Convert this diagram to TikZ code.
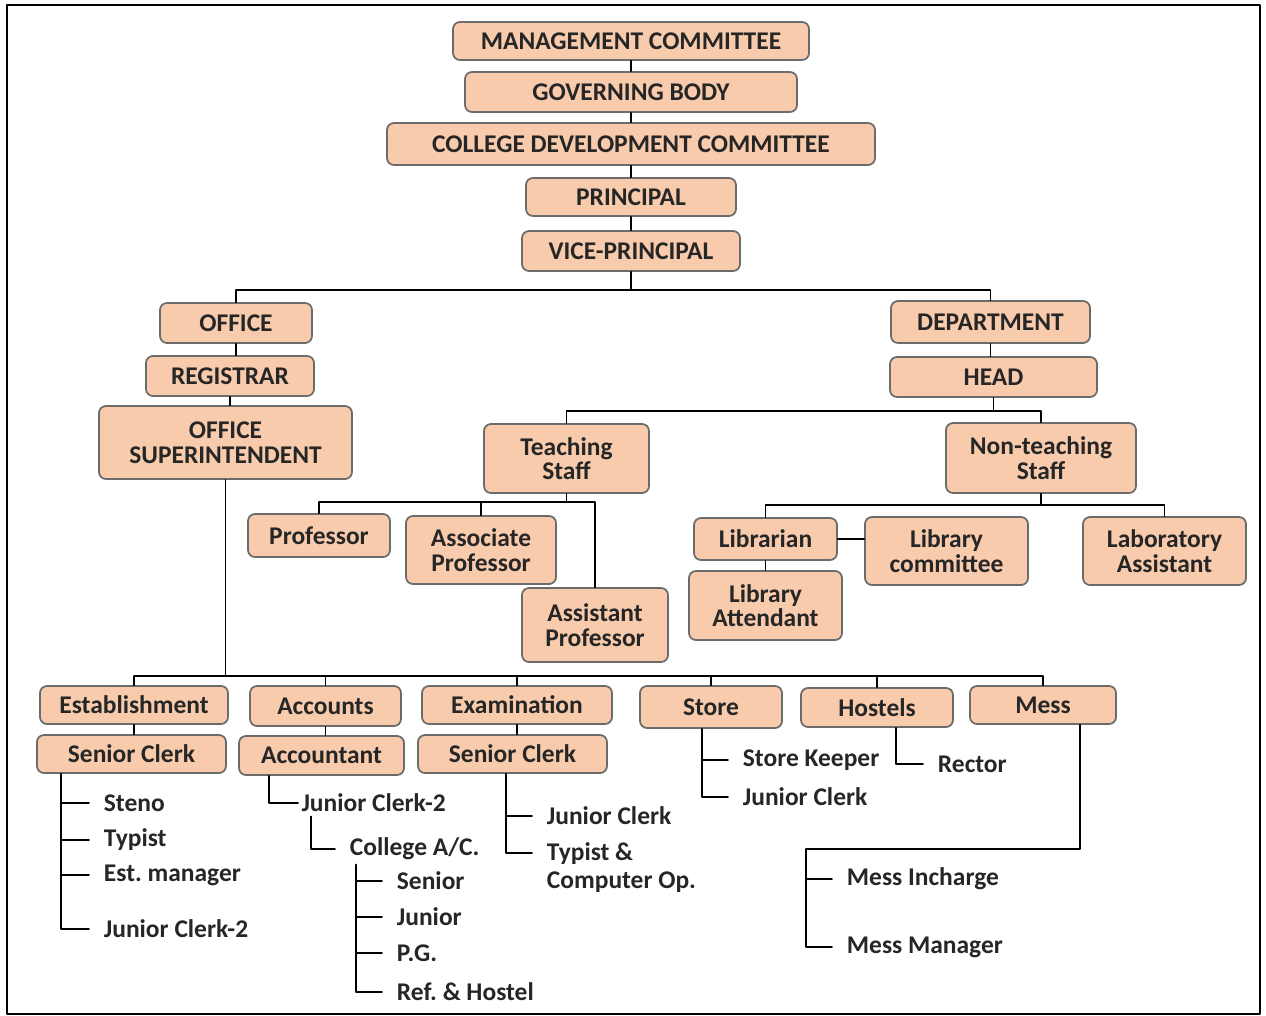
\documentclass[tikz,border=0pt]{standalone}
\usepackage{fontspec}
\setmainfont{Carlito}
\usetikzlibrary{calc}
\definecolor{peach}{HTML}{F8CBAD}
\definecolor{edge}{HTML}{6B6B6B}
\frenchspacing

\begin{document}
\begin{tikzpicture}[x=0.02cm,y=-0.02cm,line join=round,line cap=round,line width=1pt,
	box/.style={draw=edge,fill=peach,rounded corners=4pt,inner sep=0pt,align=center,text=black!85,font=\fontsize{14.5}{14}\selectfont\bfseries},
	item/.style={anchor=west,inner xsep=8pt,inner ysep=2pt,align=left,text=black!85,font=\fontsize{14.5}{16}\selectfont\bfseries}]
	\useasboundingbox (0,0) rectangle (1266,1015);
	\draw (7,5) rectangle (1260,1014);
	\foreach \n/\a/\b/\c/\d/\t in {mc/453/22/809/60/MANAGEMENT COMMITTEE, gb/465/72/797/112/GOVERNING BODY,
		cdc/387/123/875/165/COLLEGE DEVELOPMENT COMMITTEE, pr/526/178/736/216/PRINCIPAL, vp/522/231/740/271/VICE-PRINCIPAL,
		of/160/303/312/343/OFFICE, rg/146/356/314/396/REGISTRAR, os/99/406/352/479/OFFICE\\SUPERINTENDENT,
		dp/891/301/1090/343/DEPARTMENT, hd/890/357/1097/397/HEAD,
		ts/484/424/649/493/Teaching\\Staff, nts/946/423/1136/493/Non-teaching\\Staff,
		pf/248/514/390/557/Professor, asc/406/516/556/584/Associate\\Professor, asp/522/588/668/662/Assistant\\Professor,
		lib/694/518/837/560/Librarian, lc/865/517/1028/585/Library\\committee, lab/1083/517/1246/585/Laboratory\\Assistant,
		la/689/571/842/640/Library\\Attendant,
		est/40/686/228/724/Establishment, acc/250/686/401/726/Accounts, exm/422/686/612/724/Examination,
		sto/640/686/782/728/Store, hos/801/688/953/727/Hostels, mes/970/686/1116/724/Mess,
		sc1/37/735/226/773/Senior Clerk, acn/239/736/404/775/Accountant, sc2/418/735/607/773/Senior Clerk}{
		\node[box,minimum width={(\c-\a)*0.02cm},minimum height={(\d-\b)*0.02cm}] (\n) at ({(\a+\c)/2},{(\b+\d)/2}) {\t};}
	\foreach \a/\b in {mc/gb,gb/cdc,cdc/pr,pr/vp,of/rg,rg/os,dp/hd,lib/la,est/sc1,acc/acn,exm/sc2}{\draw (\a.south) -- (\a.south |- \b.north);}
	\draw (vp.south) -- (vp.south |- 0,290) (of.north) |- (vp.south |- 0,290) -| (dp.north);
	\draw (hd.south) -- (hd.south |- 0,411) (ts.north) |- (hd.south |- 0,411) -| (nts.north);
	\draw (ts.south) -- (ts.south |- 0,502) (pf.north) |- (ts.south |- 0,502) -| (asp.north) (asc.north) -- (asc.north |- 0,502);
	\draw (nts.south) -- (nts.south |- 0,505) (lib.north) |- (nts.south |- 0,505) -| (lab.north);
	\draw (lib.east) -- (lib.east -| lc.west);
	\draw (os.south) -- (os.south |- 0,676) (est.north) |- (os.south |- 0,676) -| (mes.north);
	\foreach \n in {acc,exm,sto,hos}{\draw (\n.north) -- (\n.north |- 0,676);}
	\foreach \n/\x/\y/\t in {steno/89/803/Steno, typist/89/840/Typist, estm/89/875/Est. manager, jce/89/929/Junior Clerk-2,
		cac/335/849/{College A/C.}, sen/382/881/Senior, jun/382/917/Junior, pg/382/953/P.G., rh/382/992/Ref. \& Hostel,
		jcx/532/816/Junior Clerk, sk/728/760/Store Keeper, jcs/728/797/Junior Clerk, rec/923/764/Rector,
		mi/832/879/Mess Incharge, mm/832/947/Mess Manager}{
		\node[item] (\n) at (\x,\y) {\t};}
	\node[item,inner xsep=1.5pt] (jca) at (298,803) {Junior Clerk-2};
	\node[item,anchor=north west] (tco) at (532,838) {Typist \&\\Computer Op.};
	\draw (sc1.south -| 61,0) |- (jce.west);
	\foreach \n in {steno,typist,estm}{\draw (\n.west) -- (\n.west -| 61,0);}
	\draw (acn.south -| 269,0) |- (jca.west);
	\draw (jca.south -| 311,0) |- (cac.west);
	\draw (cac.south -| 356,0) |- (rh.west);
	\foreach \n in {sen,jun,pg}{\draw (\n.west) -- (\n.west -| 356,0);}
	\draw (sc2.south -| 506,0) |- ([yshift=-0.3cm]tco.north west) (jcx.west) -- (jcx.west -| 506,0);
	\draw (sto.south -| 702,0) |- (jcs.west) (sk.west) -- (sk.west -| 702,0);
	\draw (hos.south -| 896,0) |- (rec.west);
	\coordinate (mk) at (806,849);
	\draw (mes.south -| 1080,0) |- (mk) |- (mm.west) (mi.west) -- (mi.west -| mk);
\end{tikzpicture}
\end{document}
